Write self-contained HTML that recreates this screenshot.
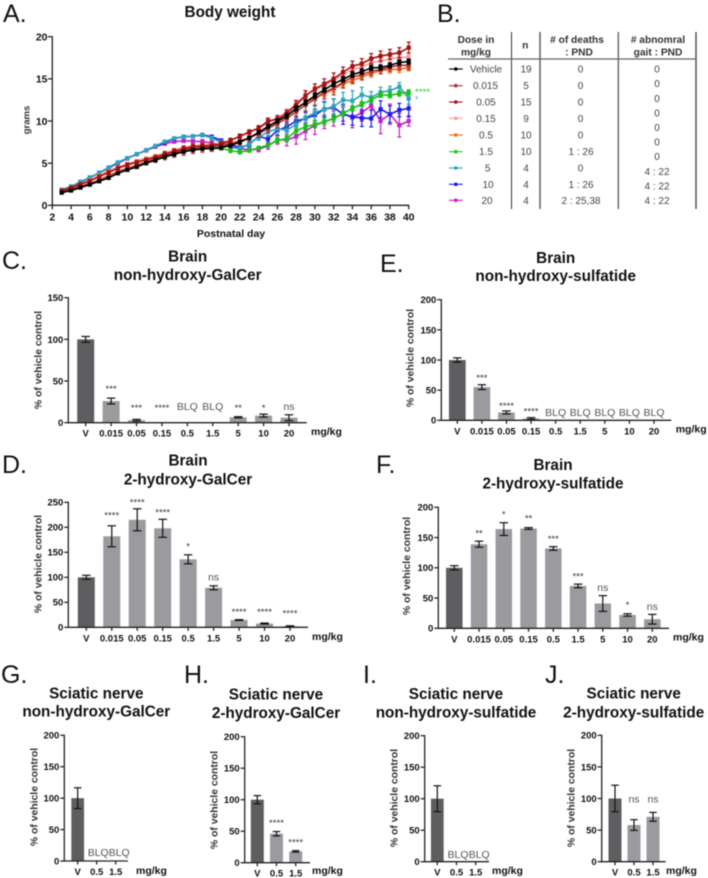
<!DOCTYPE html>
<html lang="en">
<head>
<meta charset="utf-8">
<title>Body weight and sphingolipid panels</title>
<style>
html,body{margin:0;padding:0;background:#fff;width:708px;height:878px;overflow:hidden}
svg{display:block;filter:blur(0.5px);font-family:"Liberation Sans",Arial,sans-serif}
.letter{font-size:25px;fill:#111}
.title{font-size:15.3px;font-weight:bold;fill:#111;text-anchor:middle}
.th{font-size:10.2px;font-weight:bold;fill:#333;text-anchor:middle}
.td{font-size:10px;fill:#444;text-anchor:middle}
</style>
</head>
<body>
<svg id="figure" width="708" height="878" viewBox="0 0 708 878" xmlns="http://www.w3.org/2000/svg">
  <rect width="708" height="878" fill="#fff"/>
  <text class="letter" x="3" y="22">A.</text>
  <text class="letter" x="437" y="22">B.</text>
  <text class="letter" x="2" y="269">C.</text>
  <text class="letter" x="380" y="272">E.</text>
  <text class="letter" x="2" y="473">D.</text>
  <text class="letter" x="376" y="473">F.</text>
  <text class="letter" x="1" y="683">G.</text>
  <text class="letter" x="184" y="683">H.</text>
  <text class="letter" x="363" y="683">I.</text>
  <text class="letter" x="545" y="683">J.</text>

  <text class="title" x="230" y="17">Body weight</text>

  <text class="title" x="187.7" y="261.5">Brain</text>
  <text class="title" x="187.7" y="280">non-hydroxy-GalCer</text>
  <text class="title" x="555.7" y="263">Brain</text>
  <text class="title" x="555.7" y="281">non-hydroxy-sulfatide</text>
  <text class="title" x="188" y="465.7">Brain</text>
  <text class="title" x="188" y="484.3">2-hydroxy-GalCer</text>
  <text class="title" x="553" y="470">Brain</text>
  <text class="title" x="553" y="488.7">2-hydroxy-sulfatide</text>
  <text class="title" x="96.3" y="698.3">Sciatic nerve</text>
  <text class="title" x="96.3" y="716.7">non-hydroxy-GalCer</text>
  <text class="title" x="276" y="699.3">Sciatic nerve</text>
  <text class="title" x="276" y="718">2-hydroxy-GalCer</text>
  <text class="title" x="456" y="699">Sciatic nerve</text>
  <text class="title" x="456" y="717.7">non-hydroxy-sulfatide</text>
  <text class="title" x="633.7" y="698.3">Sciatic nerve</text>
  <text class="title" x="633.7" y="717.3">2-hydroxy-sulfatide</text>

  <g id="dose-table">
    <line x1="511.5" y1="32" x2="511.5" y2="209" stroke="#333" stroke-width="1"/>
    <line x1="540" y1="32" x2="540" y2="209" stroke="#555" stroke-width="1.4"/>
    <line x1="618.3" y1="32" x2="618.3" y2="209" stroke="#777" stroke-width="1.6"/>
    <line x1="696" y1="32" x2="696" y2="209" stroke="#555" stroke-width="1.5"/>
    <line x1="448" y1="59" x2="696" y2="59" stroke="#666" stroke-width="1.3"/>
    <text class="th" x="476" y="43">Dose in</text>
    <text class="th" x="476" y="55.5">mg/kg</text>
    <text class="th" x="525.3" y="48.5">n</text>
    <text class="th" x="577" y="43"># of deaths</text>
    <text class="th" x="579" y="55.5">: PND</text>
    <text class="th" x="658" y="43"># abnomral</text>
    <text class="th" x="658" y="55.5">gait : PND</text>

    <text class="td" x="486" y="72.5">Vehicle</text>
    <text class="td" x="485.5" y="89">0.015</text>
    <text class="td" x="486" y="105.5">0.05</text>
    <text class="td" x="486" y="122">0.15</text>
    <text class="td" x="486" y="138.5">0.5</text>
    <text class="td" x="486" y="155">1.5</text>
    <text class="td" x="487.7" y="171.5">5</text>
    <text class="td" x="488" y="188">10</text>
    <text class="td" x="487" y="204">20</text>

    <text class="td" x="526" y="72.5">19</text>
    <text class="td" x="526" y="89">5</text>
    <text class="td" x="526" y="105.5">15</text>
    <text class="td" x="526" y="122">9</text>
    <text class="td" x="526" y="138.5">10</text>
    <text class="td" x="526" y="155">10</text>
    <text class="td" x="526" y="171.5">4</text>
    <text class="td" x="526" y="188">4</text>
    <text class="td" x="526" y="204">4</text>

    <text class="td" x="580.5" y="72.5">0</text>
    <text class="td" x="580.5" y="89">0</text>
    <text class="td" x="580.5" y="105.5">0</text>
    <text class="td" x="580.5" y="122">0</text>
    <text class="td" x="580.5" y="138.5">0</text>
    <text class="td" x="581" y="155">1 : 26</text>
    <text class="td" x="580.5" y="171.5">0</text>
    <text class="td" x="581" y="188">1 : 26</text>
    <text class="td" x="581" y="204">2 : 25,38</text>

    <text class="td" x="657" y="72.5">0</text>
    <text class="td" x="657" y="87">0</text>
    <text class="td" x="657" y="102">0</text>
    <text class="td" x="657" y="116.5">0</text>
    <text class="td" x="657" y="131">0</text>
    <text class="td" x="657" y="145.5">0</text>
    <text class="td" x="657" y="160">0</text>
    <text class="td" x="657" y="175">4 : 22</text>
    <text class="td" x="657" y="189.5">4 : 22</text>
    <text class="td" x="657" y="204">4 : 22</text>
  </g>
  <g id="line-chart"></g>
  <g id="legend"></g>
  <g id="bars"></g>
</svg>
<script>
// ---- Body weight data ----
const days = [3,4,5,6,7,8,9,10,11,12,13,14,15,16,17,18,19,20,21,22,23,24,25,26,27,28,29,30,31,32,33,34,35,36,37,38,39,40];
const weightXTicks = [2,4,6,8,10,12,14,16,18,20,22,24,26,28,30,32,34,36,38,40];
const weightYTicks = [0,5,10,15,20];
const doseNames = ['20','10','5','1.5','0.5','0.15','0.015','0.05','Vehicle'];

const weight20 = [1.8,2.2,2.75,3.25,3.85,4.4,5.0,5.55,6.05,6.5,6.95,7.3,7.55,7.65,7.6,7.55,7.4,7.2,6.9,6.7,6.6,6.65,7.05,7.75,7.75,8.15,8.8,9.5,9.9,10.3,10.9,10.4,11.0,11.8,10.0,10.8,9.5,10.0];
const error20 = [.08,.08,.08,.08,.08,.08,.08,.08,.1,.1,.1,.12,.15,.15,.2,.25,.25,.25,.25,.25,.25,.3,.4,.5,.7,.9,1.0,1.1,.8,.9,.9,1.2,1.0,.5,1.5,1.2,1.4,.6];
const weight10 = [1.8,2.2,2.75,3.3,3.85,4.45,5.05,5.6,6.05,6.55,7.0,7.45,7.9,8.15,8.2,8.35,8.15,7.7,7.2,6.85,7.2,8.2,7.85,8.9,9.3,10.0,10.3,10.7,11.4,11.6,10.8,10.5,10.35,10.3,11.4,10.8,11.3,11.5];
const error10 = [.06,.06,.06,.06,.08,.08,.08,.08,.08,.08,.08,.1,.1,.1,.1,.1,.1,.15,.2,.2,.25,.3,.4,.6,.6,.6,.7,.7,.9,1.0,1.2,1.0,1.0,1.0,1.0,1.0,.8,1.0];
const weight5 = [1.85,2.25,2.8,3.3,3.85,4.5,5.1,5.6,6.05,6.55,7.05,7.55,7.95,8.15,8.2,8.3,8.0,7.4,7.0,6.7,7.3,8.1,8.7,9.1,8.9,9.6,10.4,11.0,11.4,11.75,12.5,12.4,13.1,12.8,13.4,13.6,14.05,12.7];
const error5 = [.06,.06,.06,.06,.08,.08,.08,.08,.08,.08,.08,.1,.1,.1,.15,.15,.2,.3,.3,.3,.4,.4,.5,.7,.7,.8,.8,.9,.8,.9,.9,1.2,.9,.7,.6,.5,.5,.7];
const weight1p5 = [1.75,2.1,2.5,2.9,3.5,4.0,4.4,4.85,5.2,5.45,5.75,6.1,6.4,6.6,6.8,6.8,6.75,6.75,6.5,6.3,6.5,6.8,7.15,7.7,7.9,8.85,9.3,9.6,9.9,10.3,10.9,11.5,12.0,12.5,13.1,13.05,13.25,13.4];
const error1p5 = [.08,.08,.08,.1,.1,.1,.1,.12,.12,.12,.12,.12,.15,.15,.15,.15,.2,.2,.25,.2,.2,.2,.25,.3,.35,.4,.4,.4,.4,.4,.3,.3,.3,.3,.3,.3,.3,.3];
const weight0p5 = [1.7,2.05,2.5,2.95,3.5,4.05,4.5,4.9,5.25,5.55,5.85,6.2,6.55,6.85,7.05,7.15,7.2,7.3,7.4,7.6,8.0,8.6,9.2,9.9,10.6,11.4,12.2,12.8,13.2,13.8,14.4,14.8,15.25,15.6,16.0,16.1,16.15,16.35];
const error0p5 = [.07,.08,.08,.1,.1,.1,.1,.12,.12,.12,.12,.12,.15,.15,.15,.15,.15,.15,.15,.15,.2,.2,.25,.25,.3,.3,.35,.35,.35,.4,.4,.4,.4,.4,.4,.4,.4,.4];
const weight0p15 = [1.75,2.1,2.5,2.95,3.45,3.95,4.45,4.85,5.2,5.5,5.8,6.15,6.5,6.8,7.05,7.15,7.2,7.35,7.7,8.15,8.65,9.1,9.8,10.4,11.1,12.1,13.1,13.7,14.2,14.8,15.5,16.1,16.4,16.9,17.1,17.4,17.5,17.6];
const error0p15 = [.08,.08,.1,.1,.1,.12,.12,.12,.12,.15,.15,.15,.15,.15,.2,.2,.2,.2,.2,.2,.25,.25,.3,.3,.3,.4,.4,.4,.4,.4,.4,.4,.4,.4,.4,.45,.45,.45];
const weight0p015 = [1.6,1.9,2.25,2.6,3.0,3.5,4.0,4.4,4.75,5.15,5.5,5.9,6.2,6.5,6.7,6.85,6.95,7.1,7.3,7.6,8.0,8.5,9.1,9.7,10.3,11.1,11.9,12.6,13.4,13.9,14.6,15.2,15.5,15.9,16.1,16.4,16.6,16.6];
const error0p015 = [.15,.15,.2,.2,.25,.3,.3,.3,.3,.35,.4,.5,.5,.55,.55,.55,.55,.5,.5,.45,.45,.45,.5,.5,.6,.7,.8,.8,.8,.8,.7,.7,.6,.5,.5,.5,.5,.5];
const weight0p05 = [1.75,2.1,2.5,2.9,3.4,3.9,4.4,4.8,5.1,5.4,5.7,6.05,6.4,6.7,6.95,7.05,7.1,7.3,7.7,8.2,8.7,9.15,10.0,10.2,10.9,11.9,13.0,13.8,14.4,15.0,15.8,16.5,16.8,17.4,17.7,17.9,18.1,18.7];
const error0p05 = [.1,.1,.12,.15,.15,.2,.2,.2,.2,.2,.2,.2,.2,.2,.2,.2,.2,.2,.25,.25,.25,.3,.35,.4,.4,.5,.6,.6,.6,.7,.6,.6,.6,.6,.6,.6,.6,.65];
const weightVehicle = [1.5,1.75,2.1,2.45,2.85,3.25,3.8,4.2,4.55,5.0,5.35,5.75,6.05,6.35,6.55,6.7,6.75,6.85,7.1,7.5,8.0,8.65,9.35,10.0,10.6,11.5,12.2,13.0,13.7,14.4,14.95,15.5,15.85,16.3,16.35,16.6,16.95,17.05];
const errorVehicle = [.1,.1,.1,.12,.12,.15,.15,.15,.15,.15,.15,.18,.18,.18,.18,.18,.18,.18,.2,.2,.2,.2,.25,.25,.28,.3,.3,.3,.3,.3,.3,.3,.3,.3,.3,.3,.3,.3];

// ---- Bar chart data ----
const brainDoses = ['V','0.015','0.05','0.15','0.5','1.5','5','10','20'];
const nerveDoses = ['V','0.5','1.5'];
const ticks150 = [0,50,100,150];
const ticks200 = [0,50,100,150,200];
const ticks250 = [0,50,100,150,200,250];

const valuesC = [100,26,3,0,0,0,6.5,8.5,6];
const errorsC = [3.5,3.5,1,0,0,0,.7,1.8,3.5];
const sigC = ['','***','***','****','BLQ','BLQ','**','*','ns'];
const sigLevelC = [0,43,20,20,20,20,20,20,20];

const valuesE = [100,55,13,3,0,0,0,0,0];
const errorsE = [3.5,4,2.5,1.5,0,0,0,0,0];
const sigE = ['','***','****','****','BLQ','BLQ','BLQ','BLQ','BLQ'];
const sigLevelE = [0,73.5,27,18,14,14,14,14,14];

const valuesD = [100,182,215,198,136,79,14.5,7.5,2];
const errorsD = [4,21,22,18,9,4,.8,1,1];
const sigD = ['','****','****','****','*','ns','****','****','****'];
const sigLevelD = [0,228,254,234,166,102,35,35,32];

const valuesF = [100,139,164,165,132,70,41,22,15];
const errorsF = [3.5,5,10.5,1.5,3,3,13,2,8];
const sigF = ['','**','*','**','***','***','ns','*','ns'];
const sigLevelF = [0,160,191,185,151,89,68,42,37];

const valuesG = [100,0,0];
const errorsG = [16.5,0,0];
const sigG = ['','BLQ','BLQ'];
const sigLevelG = [0,14,14];

const valuesH = [100,46,18];
const errorsH = [6.5,3.5,1.2];
const sigH = ['','****','****'];
const sigLevelH = [0,66,35.5];

const valuesI = [100,0,0];
const errorsI = [20.5,0,0];
const sigI = ['','BLQ','BLQ'];
const sigLevelI = [0,12,12];

const valuesJ = [100,58,71];
const errorsJ = [21,8.5,7];
const sigJ = ['','ns','ns'];
const sigLevelJ = [0,100,100];

const NS = 'http://www.w3.org/2000/svg';
function mk(tag, name, parent, attrs) {
  const el = document.createElementNS(NS, tag);
  
  
  for (const k in attrs) el.setAttribute(k, attrs[k]);
  parent.appendChild(el);
  return el;
}
function txt(name, parent, str, attrs) {
  const el = mk('text', name, parent, attrs);
  el.textContent = str;
  return el;
}
const DARK = '#222';

// ---- Line chart ----
const lineG = document.getElementById('line-chart');
const wx = d => 52.3 + (d - 2) * (408.7 - 52.3) / 38;
const wy = v => 205.3 - v * (205.3 - 36.7) / 20;

const seriesList = [
  {name:'dose-20', color:'#c71ec7', values:weight20, errors:error20},
  {name:'dose-10', color:'#1a1aee', values:weight10, errors:error10},
  {name:'dose-5', color:'#2ca3bd', values:weight5, errors:error5},
  {name:'dose-1-5', color:'#18c018', values:weight1p5, errors:error1p5},
  {name:'dose-0-5', color:'#f5691a', values:weight0p5, errors:error0p5},
  {name:'dose-0-15', color:'#f79aa0', values:weight0p15, errors:error0p15},
  {name:'dose-0-015', color:'#b03030', values:weight0p015, errors:error0p015},
  {name:'dose-0-05', color:'#a30f0f', values:weight0p05, errors:error0p05},
  {name:'dose-vehicle', color:'#000000', values:weightVehicle, errors:errorVehicle}
];
seriesList.forEach(s => {
  const g = mk('g', 'series-' + s.name, lineG, {});
  s.values.forEach((v, i) => {
    const e = s.errors[i], x = wx(days[i]);
    mk('line', 'error-bar', g, {x1:x, x2:x, y1:wy(v - e), y2:wy(v + e), stroke:s.color, 'stroke-width':1.2});
    mk('line', 'error-cap', g, {x1:x - 2, x2:x + 2, y1:wy(v + e), y2:wy(v + e), stroke:s.color, 'stroke-width':1.2});
    mk('line', 'error-cap', g, {x1:x - 2, x2:x + 2, y1:wy(v - e), y2:wy(v - e), stroke:s.color, 'stroke-width':1.2});
  });
  mk('polyline', 'line', g, {points:s.values.map((v, i) => wx(days[i]) + ',' + wy(v)).join(' '), fill:'none', stroke:s.color, 'stroke-width':1.6});
  s.values.forEach((v, i) => {
    mk('rect', 'point', g, {x:wx(days[i]) - 2.1, y:wy(v) - 2.1, width:4.2, height:4.2, fill:s.color});
  });
});
mk('line', 'y-axis', lineG, {x1:52.3, x2:52.3, y1:wy(20) - .6, y2:wy(0) + .6, stroke:DARK, 'stroke-width':1.3});
mk('line', 'x-axis', lineG, {x1:52.3, x2:wx(40) + .5, y1:wy(0), y2:wy(0), stroke:DARK, 'stroke-width':1.3});
weightYTicks.forEach(t => {
  mk('line', 'y-tick', lineG, {x1:48, x2:52.3, y1:wy(t), y2:wy(t), stroke:DARK, 'stroke-width':1.3});
  txt('y-tick-label', lineG, String(t), {x:47.5, y:wy(t) + 3.8, 'text-anchor':'end', 'font-size':10.5, 'font-weight':'bold', fill:'#111'});
});
weightXTicks.forEach(t => {
  mk('line', 'x-tick', lineG, {x1:wx(t), x2:wx(t), y1:wy(0), y2:wy(0) + 4, stroke:DARK, 'stroke-width':1.3});
  txt('x-tick-label', lineG, String(t), {x:wx(t), y:220.5, 'text-anchor':'middle', 'font-size':10.5, 'font-weight':'bold', fill:'#111'});
});
txt('x-axis-title', lineG, 'Postnatal day', {x:231, y:237, 'text-anchor':'middle', 'font-size':10.5, 'font-weight':'bold', fill:'#111'});
txt('y-axis-title', lineG, 'grams', {x:0, y:0, transform:'translate(29.5,120) rotate(-90)', 'text-anchor':'middle', 'font-size':9.5, 'font-weight':'bold', fill:'#333'});
txt('significance-dose-1-5', lineG, '****', {x:415, y:95, 'font-size':9.6, fill:'#22d022'});
txt('significance-dose-5', lineG, '*', {x:415, y:102.5, 'font-size':9.6, fill:'#5ab8e8'});

// ---- Legend keys in the table ----
const legendG = document.getElementById('legend');
const legendKeys = [
  {name:'vehicle', color:'#000000', y:69},
  {name:'0-015', color:'#b03030', y:85.7},
  {name:'0-05', color:'#a30f0f', y:102},
  {name:'0-15', color:'#f79aa0', y:118.3},
  {name:'0-5', color:'#f5691a', y:135},
  {name:'1-5', color:'#22c422', y:151.7},
  {name:'5', color:'#2ca3bd', y:168},
  {name:'10', color:'#1a1aee', y:184.3},
  {name:'20', color:'#c71ec7', y:200.3}
];
legendKeys.forEach(k => {
  const g = mk('g', 'legend-entry-' + k.name, legendG, {});
  mk('line', 'legend-line', g, {x1:449, x2:462.7, y1:k.y, y2:k.y, stroke:k.color, 'stroke-width':1.1});
  mk('circle', 'legend-marker', g, {cx:455.8, cy:k.y, r:1.8, fill:k.color});
});

// ---- Bar charts ----
const barsG = document.getElementById('bars');
const panels = [
  {id:'c', cats:brainDoses, values:valuesC, errors:errorsC, sig:sigC, levels:sigLevelC, ticks:ticks150, x0:68.3, yTop:297.7, yBase:422.7, xEnd:306.7, first:85.7, last:289, barW:17, capW:8.5, ylx:38, yly:360, ux:311, uy:435},
  {id:'e', cats:brainDoses, values:valuesE, errors:errorsE, sig:sigE, levels:sigLevelE, ticks:ticks200, x0:441.3, yTop:299.7, yBase:420.3, xEnd:671.3, first:457.3, last:654, barW:16.7, capW:8.5, ylx:410, yly:358, ux:675.7, uy:432.5},
  {id:'d', cats:brainDoses, values:valuesD, errors:errorsD, sig:sigD, levels:sigLevelD, ticks:ticks250, x0:68.3, yTop:502.3, yBase:627.3, xEnd:308, first:86.3, last:290, barW:17, capW:8.5, ylx:38, yly:564, ux:312, uy:640},
  {id:'f', cats:brainDoses, values:valuesF, errors:errorsF, sig:sigF, levels:sigLevelF, ticks:ticks200, x0:438.3, yTop:507.3, yBase:628.3, xEnd:669, first:454.3, last:652.3, barW:16.5, capW:8.5, ylx:406.7, yly:566, ux:673, uy:640.5},
  {id:'g', cats:nerveDoses, values:valuesG, errors:errorsG, sig:sigG, levels:sigLevelG, ticks:ticks200, x0:64.3, yTop:735.3, yBase:861, xEnd:128, first:77.7, last:115.7, barW:12.7, capW:7.5, ylx:34, yly:797, ux:136, uy:874, sigShift:[0,1.5,3.5]},
  {id:'h', cats:nerveDoses, values:valuesH, errors:errorsH, sig:sigH, levels:sigLevelH, ticks:ticks200, x0:244.7, yTop:736.7, yBase:862.7, xEnd:310, first:257.3, last:295.7, barW:13, capW:7.5, ylx:214, yly:800, ux:312, uy:874},
  {id:'i', cats:nerveDoses, values:valuesI, errors:errorsI, sig:sigI, levels:sigLevelI, ticks:ticks200, x0:424.7, yTop:735.7, yBase:861.7, xEnd:489, first:437.3, last:475.7, barW:12.7, capW:7.5, ylx:394, yly:798, ux:492, uy:874, sigShift:[0,1.5,3.5]},
  {id:'j', cats:nerveDoses, values:valuesJ, errors:errorsJ, sig:sigJ, levels:sigLevelJ, ticks:ticks200, x0:601.7, yTop:735.3, yBase:861.7, xEnd:665.7, first:615, last:653, barW:13, capW:7.5, ylx:571, yly:798, ux:666, uy:874}
];
panels.forEach(p => {
  const g = mk('g', 'panel-' + p.id, barsG, {});
  const yMax = p.ticks[p.ticks.length - 1];
  const y = v => p.yBase - v * (p.yBase - p.yTop) / yMax;
  const x = i => p.first + i * (p.last - p.first) / (p.cats.length - 1);
  p.values.forEach((v, i) => {
    if (v > 0) {
      mk('rect', 'bar-' + p.cats[i].replace('.', '-'), g, {x:x(i) - p.barW / 2, y:y(v), width:p.barW, height:p.yBase - y(v), fill:i === 0 ? '#5e5e60' : '#9b9b9f'});
    }
  });
  p.values.forEach((v, i) => {
    const e = p.errors[i];
    if (v > 0 && e > 0) {
      mk('line', 'error-bar', g, {x1:x(i), x2:x(i), y1:y(v + e), y2:y(v - e), stroke:'#111', 'stroke-width':1.2});
      mk('line', 'error-cap-top', g, {x1:x(i) - p.capW / 2, x2:x(i) + p.capW / 2, y1:y(v + e), y2:y(v + e), stroke:'#111', 'stroke-width':1.2});
      mk('line', 'error-cap-bottom', g, {x1:x(i) - p.capW / 2, x2:x(i) + p.capW / 2, y1:y(v - e), y2:y(v - e), stroke:'#111', 'stroke-width':1.2});
    }
    const s = p.sig[i];
    if (s) {
      const stars = s.charAt(0) === '*';
      const dx = p.sigShift ? p.sigShift[i] : 0;
      txt('significance-label', g, s, {x:x(i) + dx, y:y(p.levels[i]) + (stars ? 5 : 4), 'text-anchor':'middle', 'font-size':stars ? 9.6 : 10.5, fill:stars ? '#333' : '#555'});
    }
  });
  mk('line', 'y-axis', g, {x1:p.x0, x2:p.x0, y1:p.yTop - .6, y2:p.yBase + .6, stroke:DARK, 'stroke-width':1.3});
  mk('line', 'x-axis', g, {x1:p.x0, x2:p.xEnd, y1:p.yBase, y2:p.yBase, stroke:DARK, 'stroke-width':1.3});
  p.ticks.forEach(t => {
    mk('line', 'y-tick', g, {x1:p.x0 - 4, x2:p.x0, y1:y(t), y2:y(t), stroke:DARK, 'stroke-width':1.3});
    txt('y-tick-label', g, String(t), {x:p.x0 - 5, y:y(t) + 3.4, 'text-anchor':'end', 'font-size':9.5, 'font-weight':'bold', fill:'#111'});
  });
  p.cats.forEach((c, i) => {
    mk('line', 'x-tick', g, {x1:x(i), x2:x(i), y1:p.yBase, y2:p.yBase + 3.5, stroke:DARK, 'stroke-width':1.3});
    txt('x-tick-label', g, c, {x:x(i), y:p.yBase + 14, 'text-anchor':'middle', 'font-size':9.5, 'font-weight':'bold', fill:'#111'});
  });
  txt('y-axis-title', g, '% of vehicle control', {x:0, y:0, transform:'translate(' + (p.ylx + 3.5) + ',' + p.yly + ') rotate(-90)', 'text-anchor':'middle', 'font-size':10.4, 'font-weight':'bold', fill:'#333'});
  txt('unit-label', g, 'mg/kg', {x:p.ux, y:p.uy, 'font-size':10.5, 'font-weight':'bold', fill:'#111'});
});
</script>
</body>
</html>
